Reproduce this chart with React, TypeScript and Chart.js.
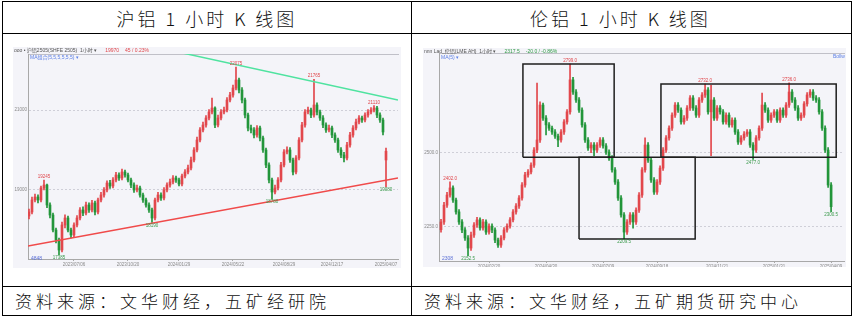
import React, { useEffect, useRef } from 'react';
import { Chart, registerables } from 'chart.js';
Chart.register(...registerables);

// ---------------- 沪铝 1小时 (SHFE aluminium) ----------------
const shOpen = [18350,18450,18750,18825,18750,19050,19125,18625,18375,18000, 17750,17500,18125,18300,18000,17875,18125,18300,18500,18425, 18625,18500,18675,18450,18750,18875,19000,19175,19100,19250, 19375,19300,19450,19375,19250,19125,19000,19050,18875,18750, 18625,18500,18300,18750,18875,18800,19000,19125,19200,19300, 19250,19150,19350,19450,19550,19750,20000,20250,20500,20625, 20800,20950,21050,20625,20800,20950,21000,21250,21375,21550, 21750,21500,21250,20875,20550,20500,20375,20550,20300,20000, 19625,19250,18950,19050,19250,19625,19950,20000,19750,19450, 19800,20250,20625,20950,21000,20875,21125,20950,20800,20625, 20500,20550,20375,20250,20000,19875,19800,20125,20375,20550, 20700,20800,20750,20875,20950,21000,21050,20875,20750,19750];
const shClose = [18450,18750,18825,18750,19050,19125,18625,18375,18000,17750, 17500,18125,18300,18000,17875,18125,18300,18500,18425,18625, 18500,18675,18450,18750,18875,19000,19175,19100,19250,19375, 19300,19450,19375,19250,19125,19000,19050,18875,18750,18625, 18500,18300,18750,18875,18800,19000,19125,19200,19300,19250, 19150,19350,19450,19550,19750,20000,20250,20500,20625,20800, 20950,21050,20625,20800,20950,21000,21250,21375,21550,21750, 21500,21250,20875,20550,20500,20375,20550,20300,20000,19625, 19250,18950,19050,19250,19625,19950,20000,19750,19450,19800, 20250,20625,20950,21000,20875,21125,20950,20800,20625,20500, 20550,20375,20250,20000,19875,19800,20125,20375,20550,20700, 20800,20750,20875,20950,21000,21050,20875,20750,20450,19970];
const shHigh = [18520,18820,18900,18880,19100,19245,19150,18680,18420,18050, 17800,18200,18380,18350,18050,18180,18360,18560,18580,18700, 18680,18740,18720,18800,18940,19060,19230,19240,19310,19440, 19430,19520,19500,19420,19300,19180,19120,19100,18920,18800, 18680,18550,18800,18940,18930,19060,19180,19270,19360,19350, 19300,19400,19510,19620,19820,20060,20320,20560,20700,20860, 21010,21300,21080,20870,21010,21070,21310,21440,21620,22075, 21800,21560,21300,20920,20620,20560,20610,20600,20350,20050, 19680,19300,19120,19310,19690,20010,20080,20060,19800,19860, 20310,20690,21010,21070,21050,21765,21180,21000,20860,20680, 20620,20600,20430,20300,20060,19940,20190,20440,20610,20770, 20860,20850,20930,21010,21060,21110,21090,20930,20800,20050];
const shLow = [18280,18400,18700,18680,18700,19000,18560,18300,17950,17680, 17385,17450,18050,17950,17800,17820,18080,18250,18360,18380, 18440,18450,18380,18400,18700,18820,18950,19040,19050,19200, 19240,19250,19320,19200,19060,18940,18950,18820,18690,18570, 18440,18190,18250,18700,18740,18750,18950,19070,19150,19190, 19100,19100,19300,19400,19500,19700,19950,20200,20450,20570, 20750,20900,20560,20580,20750,20900,20950,21200,21320,21500, 21430,21180,20800,20480,20430,20300,20320,20230,19940,19560, 19180,18780,18900,19000,19200,19580,19900,19690,19380,19400, 19750,20200,20570,20900,20810,20820,20880,20740,20560,20440, 20450,20310,20190,19940,19810,19700,19750,20070,20320,20500, 20650,20690,20700,20820,20900,20950,20810,20690,20380,19080];
const shYTicks = [19000, 21000];
const shDateIdx = [15, 33, 50, 68, 85, 101, 119];
const shDateLabels = ['2023/07/06', '2023/10/20', '2024/01/29', '2024/05/22', '2024/08/29', '2024/12/17', '2025/04/07'];
const shMarks = [
  { i: 5, v: 19245, text: '19245', up: true },
  { i: 10, v: 17385, text: '17385', up: false },
  { i: 41, v: 18190, text: '18190', up: false },
  { i: 69, v: 22075, text: '22075', up: true },
  { i: 81, v: 18780, text: '18780', up: false },
  { i: 95, v: 21765, text: '21765', up: true },
  { i: 115, v: 21110, text: '21110', up: true },
  { i: 119, v: 19080, text: '19080', up: false },
];
const shResistLine = [{ x: 40, y: 22608 }, { x: 123, y: 21250 }];
const shSupportLine = [{ x: -0.33, y: 17600 }, { x: 123, y: 19300 }];

// ---------------- 伦铝 1小时 (LME aluminium) ----------------
const lmOpen = [2240,2266,2323,2357,2381,2340,2300,2266,2239,2212, 2178,2222,2256,2273,2246,2266,2232,2252,2239,2205, 2188,2212,2239,2252,2273,2300,2320,2347,2391,2425, 2435,2458,2509,2543,2661,2617,2594,2583,2570,2556, 2543,2570,2604,2638,2746,2705,2678,2644,2594,2543, 2516,2526,2509,2526,2543,2523,2502,2482,2442,2401, 2347,2290,2232,2266,2290,2266,2306,2357,2442,2526, 2475,2408,2367,2401,2448,2509,2550,2583,2627,2661, 2644,2604,2617,2651,2685,2651,2627,2678,2695,2712, 2638,2678,2617,2651,2638,2604,2627,2594,2610,2570, 2536,2550,2563,2570,2526,2509,2550,2583,2661,2644, 2610,2627,2638,2610,2644,2627,2661,2705,2678,2651, 2617,2627,2665,2695,2705,2685,2678,2638,2583,2509, 2391];
const lmClose = [2266,2323,2357,2381,2340,2300,2266,2239,2212,2178, 2222,2256,2273,2246,2266,2232,2252,2239,2205,2188, 2212,2239,2252,2273,2300,2320,2347,2391,2425,2435, 2458,2509,2543,2661,2617,2594,2583,2570,2556,2543, 2570,2604,2638,2746,2705,2678,2644,2594,2543,2516, 2526,2509,2526,2543,2523,2502,2482,2442,2401,2347, 2290,2232,2266,2290,2266,2306,2357,2442,2526,2475, 2408,2367,2401,2448,2509,2550,2583,2627,2661,2644, 2604,2617,2651,2685,2651,2627,2678,2695,2712,2638, 2678,2617,2651,2638,2604,2627,2594,2610,2570,2536, 2550,2563,2570,2526,2509,2550,2583,2661,2644,2610, 2627,2638,2610,2644,2627,2661,2705,2678,2651,2617, 2627,2665,2695,2705,2685,2678,2638,2583,2509,2391, 2317.5];
const lmHigh = [2275,2332,2366,2402,2388,2347,2308,2274,2247,2220, 2232,2264,2282,2280,2275,2273,2260,2260,2246,2212, 2220,2247,2260,2281,2308,2328,2355,2399,2434,2443, 2466,2517,2735,2672,2668,2625,2602,2590,2578,2563, 2578,2612,2646,2799,2755,2713,2686,2652,2602,2551, 2534,2534,2534,2551,2551,2531,2510,2490,2450,2409, 2355,2298,2274,2298,2298,2314,2365,2450,2550,2534, 2483,2416,2409,2456,2517,2558,2591,2635,2669,2669, 2652,2625,2659,2693,2693,2659,2686,2703,2732,2720, 2728,2686,2659,2659,2646,2635,2635,2618,2618,2578, 2558,2571,2578,2578,2534,2558,2591,2701,2669,2652, 2635,2646,2646,2652,2652,2669,2736,2713,2686,2659, 2635,2673,2703,2713,2713,2693,2686,2646,2591,2517, 2399];
const lmLow = [2232,2258,2315,2350,2332,2292,2258,2230,2204,2152.5, 2170,2214,2248,2238,2238,2224,2225,2230,2196,2180, 2180,2205,2232,2245,2266,2292,2312,2340,2384,2417, 2428,2450,2500,2535,2609,2560,2575,2562,2548,2520, 2536,2562,2596,2630,2697,2670,2636,2586,2535,2508, 2500,2490,2501,2518,2515,2494,2474,2434,2393,2339, 2282,2209.5,2224,2258,2245,2258,2298,2349,2434,2467, 2400,2359,2359,2393,2440,2501,2542,2575,2619,2636, 2596,2596,2609,2643,2643,2619,2619,2670,2687,2630, 2490,2609,2609,2630,2596,2596,2586,2586,2562,2528, 2528,2542,2555,2518,2477,2501,2542,2575,2636,2602, 2602,2619,2602,2602,2619,2619,2653,2670,2643,2609, 2609,2619,2657,2687,2677,2670,2630,2575,2501,2383, 2300.5];
const lmYTicks = [2250, 2500];
const lmDateIdx = [16, 35, 54, 72, 92, 111, 130];
const lmDateLabels = ['2024/02/20', '2024/04/30', '2024/07/09', '2024/09/18', '2024/11/21', '2025/01/31', '2025/04/09'];
const lmMarks = [
  { i: 3, v: 2402, text: '2402.0', up: true },
  { i: 9, v: 2152.5, text: '2152.5', up: false },
  { i: 43, v: 2799, text: '2799.0', up: true },
  { i: 61, v: 2209.5, text: '2209.5', up: false },
  { i: 88, v: 2732, text: '2732.0', up: true },
  { i: 104, v: 2477, text: '2477.0', up: false },
  { i: 116, v: 2736, text: '2736.0', up: true },
  { i: 130, v: 2300.5, text: '2300.5', up: false },
];
// consolidation boxes: [startIndex, endIndex, lowPrice, highPrice]
const lmBoxes = [
  [27.3, 57.7, 2485, 2800],
  [46, 84.7, 2208.5, 2485],
  [73.3, 131.7, 2485, 2732],
];

const UP = '#e2474c';
const DOWN = '#22953a';
const TINY = '"Liberation Sans", Arial, sans-serif';

type Pt = { x: number; y: number };
type Line = { pts: Pt[]; color: string; width: number };
type Mark = { i: number; v: number; text: string; up: boolean };

function CandleChart(p: {
  width: number; height: number;
  open: number[]; high: number[]; low: number[]; close: number[];
  xMin: number; xMax: number; yMin: number; yMax: number;
  yTicks: number[]; yFmt: (v: number) => string;
  dateIdx: number[]; dateLabels: string[];
  marks: Mark[]; lines: Line[];
  padTop: number; padRight: number; yAxisW: number; xAxisH: number;
}) {
  const ref = useRef<HTMLCanvasElement>(null);
  useEffect(() => {
    const colors = p.close.map((c, i) => (c >= p.open[i] ? UP : DOWN));
    const datasets: any[] = [
      {
        type: 'bar', label: 'wick',
        data: p.close.map((c, i) => ({ x: i, y: [p.low[i], p.high[i]] })),
        backgroundColor: colors, barThickness: 1, grouped: false, order: 3,
      },
      {
        type: 'bar', label: 'body',
        data: p.close.map((c, i) => ({ x: i, y: [Math.min(p.open[i], c), Math.max(p.open[i], c)] })),
        backgroundColor: colors, barThickness: 2, minBarLength: 1, grouped: false, order: 2,
      },
      ...p.lines.map((l) => ({
        type: 'line', data: l.pts, borderColor: l.color, borderWidth: l.width,
        pointRadius: 0, fill: false, tension: 0, order: 1,
      })),
    ];
    const markPlugin = {
      id: 'marks',
      afterDatasetsDraw(chart: any) {
        const { ctx, scales } = chart;
        ctx.save();
        ctx.font = `4.5px ${TINY}`;
        ctx.textAlign = 'center';
        p.marks.forEach((m) => {
          const px = scales.x.getPixelForValue(m.i);
          const py = scales.y.getPixelForValue(m.v);
          ctx.fillStyle = m.up ? '#e0464b' : '#3a9a4c';
          ctx.textBaseline = m.up ? 'bottom' : 'top';
          ctx.fillText(m.text, px, m.up ? py - 1 : py + 1);
        });
        ctx.restore();
      },
    };
    const chart = new Chart(ref.current as HTMLCanvasElement, {
      type: 'bar',
      data: { datasets },
      options: {
        animation: false, responsive: false, events: [],
        layout: { padding: { left: 0, right: p.padRight, top: p.padTop, bottom: 0 } },
        plugins: { legend: { display: false }, tooltip: { enabled: false } },
        scales: {
          x: {
            type: 'linear', min: p.xMin, max: p.xMax, offset: false,
            afterBuildTicks: (s: any) => { s.ticks = p.dateIdx.map((v) => ({ value: v })); },
            afterFit: (s: any) => { s.height = p.xAxisH; },
            ticks: {
              autoSkip: false, maxRotation: 0, padding: 1, color: '#8a8a8a',
              font: { size: 4.5, family: TINY },
              callback: (_v: any, idx: number) => p.dateLabels[idx],
            },
            grid: { drawOnChartArea: false, drawTicks: true, tickLength: 2, color: '#a8a8a8', offset: false },
            border: { display: true, color: '#a8a8a8', width: 1 },
          },
          xTop: {
            type: 'linear', position: 'top', min: p.xMin, max: p.xMax, offset: false,
            ticks: { display: false }, grid: { display: false, drawTicks: false },
            afterFit: (s: any) => { s.height = 0; },
            border: { display: true, color: '#c0c0c8', width: 1 },
          },
          y: {
            type: 'linear', min: p.yMin, max: p.yMax,
            afterBuildTicks: (s: any) => { s.ticks = p.yTicks.map((v) => ({ value: v })); },
            afterFit: (s: any) => { s.width = p.yAxisW; },
            ticks: { padding: 1, color: '#8a8a8a', font: { size: 4.5, family: TINY }, callback: (v: any) => p.yFmt(Number(v)) },
            grid: { color: '#cfcfd8', drawTicks: false, tickLength: 0 },
            border: { display: true, color: '#a8a8a8', width: 1, dash: [2, 2] },
          },
        },
      } as any,
      plugins: [markPlugin],
    });
    return () => chart.destroy();
  }, []);
  return <canvas ref={ref} width={p.width} height={p.height} style={{ display: 'block', width: p.width, height: p.height }} />;
}

const abs = (l: number, t: number, w: number, h: number, extra: any = {}) => ({
  position: 'absolute' as const, left: l, top: t, width: w, height: h, ...extra,
});

export default function App() {
  const cjk = '"Noto Sans CJK SC", "Noto Sans", sans-serif';
  const tiny: any = { position: 'absolute', fontSize: 5, lineHeight: '6px', whiteSpace: 'nowrap', fontFamily: `${TINY}, "Noto Sans CJK SC"` };
  const boxLines: Line[] = lmBoxes.map(([x0, x1, y0, y1]) => ({
    pts: [{ x: x0, y: y0 }, { x: x1, y: y0 }, { x: x1, y: y1 }, { x: x0, y: y1 }, { x: x0, y: y0 }],
    color: '#1e1e1e', width: 1.5,
  }));
  const titleStyle = { fontFamily: cjk, fontSize: 18, lineHeight: '28px', letterSpacing: 3, color: '#111', fontWeight: 300, whiteSpace: 'nowrap', textAlign: 'center' };
  return (
    <div style={{ position: 'relative', width: 855, height: 318, background: '#fff', overflow: 'hidden' }}>
      <style>{'body{margin:0}'}</style>
      {/* table borders */}
      <div style={abs(2, 1, 850, 1, { background: '#000' })} />
      <div style={abs(2, 33, 850, 1, { background: '#000' })} />
      <div style={abs(2, 286, 850, 1, { background: '#000' })} />
      <div style={abs(2, 315, 850, 1, { background: '#000' })} />
      <div style={abs(2, 1, 1, 315, { background: '#000' })} />
      <div style={abs(411, 1, 1, 315, { background: '#000' })} />
      <div style={abs(851, 1, 1, 315, { background: '#000' })} />

      {/* titles */}
      <div style={abs(3, 4, 408, 28, titleStyle)}>沪铝 1 小时 K 线图</div>
      <div style={abs(412, 4, 417, 28, titleStyle)}>伦铝 1 小时 K 线图</div>

      {/* sources */}
      <div style={abs(15, 289, 390, 24, { fontFamily: cjk, fontSize: 17, lineHeight: '24px', letterSpacing: 4, color: '#111', fontWeight: 300, whiteSpace: 'nowrap' })}>资料来源：文华财经，五矿经研院</div>
      <div style={abs(424, 289, 420, 24, { fontFamily: cjk, fontSize: 17, lineHeight: '24px', letterSpacing: 4, color: '#111', fontWeight: 300, whiteSpace: 'nowrap' })}>资料来源：文华财经，五矿期货研究中心</div>

      {/* left chart panel */}
      <div style={abs(13, 47, 388, 221, { background: '#f4f4f9' })}>
        <CandleChart
          width={388} height={221}
          open={shOpen} high={shHigh} low={shLow} close={shClose}
          xMin={-0.33} xMax={123} yMin={17275} yMax={22400}
          yTicks={shYTicks} yFmt={(v) => String(v)}
          dateIdx={shDateIdx} dateLabels={shDateLabels}
          marks={shMarks}
          lines={[
            { pts: shResistLine, color: '#4fe3a0', width: 1.5 },
            { pts: shSupportLine, color: '#f04a4a', width: 1.5 },
          ]}
          padTop={7} padRight={3} yAxisW={15} xAxisH={9}
        />
        <div style={{ ...tiny, left: 1, top: 0, color: '#555' }}>
          ooo • 沪铝2505(SHFE 2505)&nbsp;&nbsp;1小时 ▾
          <span style={{ color: '#e0464b', marginLeft: 8 }}>19970</span>
          <span style={{ color: '#e0464b', marginLeft: 6 }}>45 / 0.23%</span>
        </div>
        <div style={{ ...tiny, left: 17, top: 7, color: '#5b7fe6' }}>MA组合(5,5,5,5,5,5) ▾</div>
        <div style={{ ...tiny, left: 18, top: 208, color: '#5b6fd6' }}>4848</div>
      </div>

      {/* right chart panel */}
      <div style={abs(423, 48, 423, 219, { background: '#f4f4f9' })}>
        <CandleChart
          width={423} height={219}
          open={lmOpen} high={lmHigh} low={lmLow} close={lmClose}
          xMin={-0.67} xMax={134.3} yMin={2134.2} yMax={2836.8}
          yTicks={lmYTicks} yFmt={(v) => v.toFixed(1)}
          dateIdx={lmDateIdx} dateLabels={lmDateLabels}
          marks={lmMarks}
          lines={boxLines}
          padTop={5} padRight={2} yAxisW={16} xAxisH={6}
        />
        <div style={{ ...tiny, left: 1, top: 0, color: '#555' }}>
          nnn Lad_伦铝(LME AH)&nbsp;&nbsp;1小时 ▾
          <span style={{ color: '#2f9a45', marginLeft: 8 }}>2317.5</span>
          <span style={{ color: '#2f9a45', marginLeft: 6 }}>-20.0 / -0.86%</span>
        </div>
        <div style={{ ...tiny, left: 18, top: 6, color: '#5b7fe6' }}>MA(5) ▾</div>
        <div style={{ ...tiny, left: 410, top: 5, color: '#5b7fe6' }}>Bollw</div>
        <div style={{ ...tiny, left: 19, top: 207, color: '#5b6fd6' }}>2308</div>
      </div>
    </div>
  );
}
